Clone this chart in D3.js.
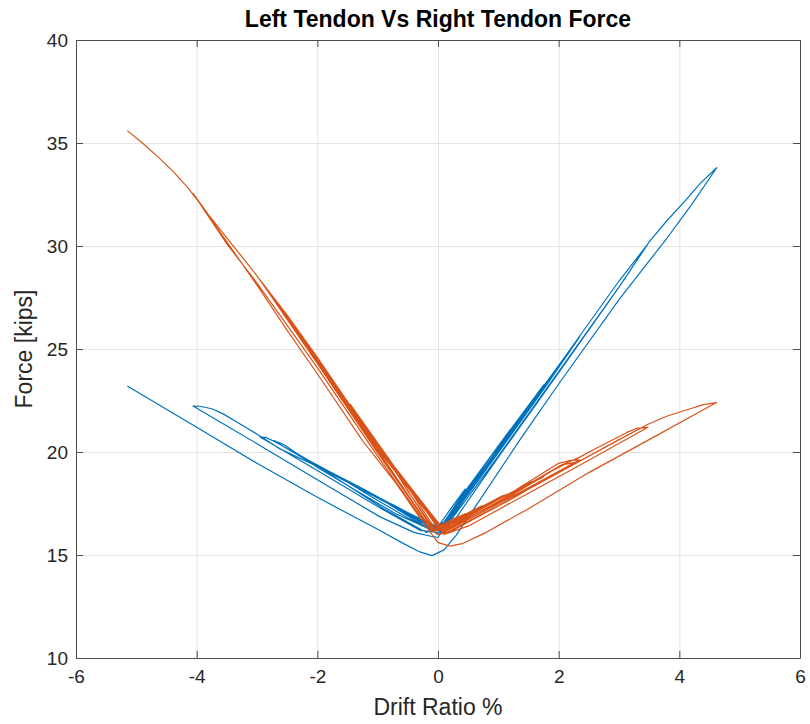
<!DOCTYPE html>
<html>
<head>
<meta charset="utf-8">
<script src="https://cdn.jsdelivr.net/npm/d3@7"></script>
<style>
  body { margin: 0; background: #fff; }
  svg { font-family: "Liberation Sans", Arial, sans-serif; }
  .grid line { stroke: #e3e3e3; stroke-width: 1; }
  .grid .domain { display: none; }
  .axis text { fill: #262626; font-size: 19px; }
  .axis line, .axis path { stroke: #4d4d4d; stroke-width: 1; }
</style>
</head>
<body>
<svg width="810" height="724"></svg>
<script>
/* ---- data ---- */
var title = "Left Tendon Vs Right Tendon Force"
var xLabel = "Drift Ratio %"
var yLabel = "Force [kips]"

var xTicks = [-6, -4, -2, 0, 2, 4, 6]
var yTicks = [10, 15, 20, 25, 30, 35, 40]

// left tendon (blue) : [drift %, force kips]
var leftTendon = [
  [0.0,16.35],[0.2,17.2],[0.45,18.2],[0.35,17.7],[0.1,16.6],[-0.05,16.3],[-0.3,16.7],[-0.5,17.0],[-0.3,16.6],[-0.05,16.25],
  [0.05,16.3],[0.4,17.9],[0.8,19.5],[0.6,18.6],[0.2,16.9],[0.0,16.3],[-0.4,16.9],[-0.75,17.45],[-0.95,17.7],[-0.5,16.95],[-0.1,16.3],
  [0.1,16.6],[0.6,18.7],[1.2,21.1],[0.9,19.75],[0.4,17.65],[0.05,16.3],[-0.5,17.05],[-1.0,17.8],[-1.3,18.3],[-1.45,18.45],[-1.0,17.65],[-0.5,16.8],[-0.1,16.25],
  [0.1,16.55],[0.9,19.9],[1.75,23.25],[1.3,21.35],[0.6,18.45],[0.05,16.25],[-0.6,17.2],[-1.3,18.3],[-1.8,19.05],[-2.05,19.35],[-1.4,18.2],[-0.7,17.0],[-0.1,16.2],
  [0.1,16.5],[1.2,21.0],[2.35,25.6],[1.8,23.25],[0.9,19.55],[0.05,16.2],[-0.8,17.5],[-1.8,19.05],[-2.4,20.0],[-2.7,20.5],[-2.85,20.7],[-2.95,20.73],[-2.0,19.1],[-1.0,17.35],[-0.3,16.2],[0.0,16.1],
  [0.15,16.5],[1.2,20.9],[2.25,25.2],[1.6,22.45],[0.8,19.15],[0.05,16.15],[-0.8,17.45],[-1.8,19.0],[-2.35,19.95],[-2.55,20.35],[-2.72,20.55],[-1.8,18.95],[-0.9,17.25],[-0.2,16.1],
  [0.1,16.4],[1.0,20.2],[2.0,24.2],[3.0,28.3],[3.48,30.1],[3.0,28.0],[2.0,23.85],[1.0,19.75],[0.3,16.8],[0.0,16.0],
  [-1.0,17.8],[-2.0,19.3],[-2.62,20.15],[-2.95,20.78],[-3.3,21.4],[-3.56,21.85],[-3.75,22.1],[-3.95,22.22],[-4.06,22.23],
  [-3.0,20.4],[-2.0,18.65],[-0.96,16.85],[-0.4,16.1],[-0.1,15.9],
  [0.0,15.85],[1.0,19.8],[2.0,23.9],[3.0,28.0],[3.5,30.2],[3.8,31.25],[4.1,32.2],[4.35,33.05],[4.62,33.8],
  [4.2,32.0],[3.8,30.4],[3.0,27.4],[2.0,23.3],[1.36,20.6],[0.7,17.7],[0.3,15.95],[0.1,15.25],[-0.1,14.97],[-0.3,15.15],
  [-0.6,15.6],[-1.0,16.25],[-2.0,17.8],[-3.0,19.45],[-4.0,21.2],[-5.15,23.2]
]

// right tendon (orange) : [drift %, force kips]
var rightTendon = [
  [0.0,16.4],[0.25,16.75],[0.45,17.0],[0.2,16.55],[0.0,16.3],[-0.25,17.35],[-0.5,18.3],[-0.3,17.4],[-0.05,16.3],
  [0.1,16.45],[0.5,17.05],[0.7,17.35],[0.8,17.45],[0.4,16.8],[0.05,16.25],[-0.5,18.3],[-0.95,20.2],[-0.5,18.1],[-0.05,16.2],
  [0.1,16.4],[0.7,17.3],[1.05,17.85],[1.2,18.0],[0.7,17.2],[0.1,16.2],[-0.7,19.2],[-1.45,22.3],[-0.8,19.5],[-0.1,16.3],
  [0.15,16.4],[1.0,17.7],[1.55,18.55],[1.75,18.8],[1.0,17.6],[0.1,16.15],[-1.0,20.3],[-2.05,24.8],[-1.0,20.1],[-0.1,16.2],
  [0.2,16.4],[1.2,18.0],[2.0,19.45],[2.2,19.6],[2.35,19.62],[1.3,17.95],[0.1,16.1],[-1.0,20.3],[-2.0,24.6],[-2.5,26.65],[-2.95,28.35],[-2.0,24.3],[-1.0,19.95],[-0.1,16.2],
  [0.2,16.35],[1.2,17.85],[1.9,19.1],[2.1,19.4],[2.25,19.48],[1.3,17.85],[0.15,16.05],[-1.0,20.2],[-2.0,24.5],[-2.65,27.2],[-1.8,23.5],[-0.9,19.6],[-0.1,16.15],
  [0.2,16.3],[1.0,17.6],[2.0,19.3],[2.35,19.75],[2.6,20.15],[3.13,20.95],[3.3,21.15],[3.48,21.2],[2.5,19.6],[1.5,18.0],[0.5,16.4],[0.1,16.0],
  [-1.0,20.15],[-2.0,24.45],[-3.0,28.55],[-3.5,30.4],[-3.8,31.5],[-4.06,32.55],[-3.5,30.1],[-3.0,28.2],[-2.0,24.1],[-1.0,19.8],[-0.3,16.9],[0.0,16.0],
  [0.15,16.1],[1.0,17.4],[2.0,19.0],[3.0,20.6],[3.48,21.35],[3.8,21.75],[4.13,22.05],[4.4,22.3],[4.62,22.4],
  [4.39,22.04],[3.5,20.6],[2.5,19.0],[1.5,17.25],[0.8,16.1],[0.4,15.55],[0.2,15.43],[0.0,15.6],[-0.3,16.8],[-0.7,18.5],
  [-1.24,20.5],[-2.0,23.8],[-2.5,25.9],[-3.0,28.1],[-3.5,30.2],[-3.94,32.05],[-4.15,32.85],[-4.4,33.65],[-4.65,34.35],[-4.9,35.0],[-5.15,35.6]
]

var seriesColor = ["#0072BD", "#D95319"]

/* ---- layout ---- */
var svg = d3.select("svg")
var plotLeft = 76, plotRight = 800, plotTop = 40, plotBottom = 658
var w = plotRight - plotLeft, h = plotBottom - plotTop

var x = d3.scaleLinear().domain([-6, 6]).range([plotLeft, plotRight])
var y = d3.scaleLinear().domain([10, 40]).range([plotBottom, plotTop])

/* grid */
svg.append("g").attr("class", "grid")
  .attr("transform", "translate(0," + plotBottom + ")")
  .call(d3.axisBottom(x).tickValues(xTicks).tickSize(-h).tickFormat(""))
svg.append("g").attr("class", "grid")
  .attr("transform", "translate(" + plotLeft + ",0)")
  .call(d3.axisLeft(y).tickValues(yTicks).tickSize(-w).tickFormat(""))

/* lines */
var line = d3.line().x(function(d){ return x(d[0]) }).y(function(d){ return y(d[1]) })

svg.append("path").datum(leftTendon)
  .attr("fill", "none").attr("stroke", seriesColor[0]).attr("stroke-width", 1.2)
  .attr("stroke-linejoin", "round").attr("d", line)
svg.append("path").datum(rightTendon)
  .attr("fill", "none").attr("stroke", seriesColor[1]).attr("stroke-width", 1.2)
  .attr("stroke-linejoin", "round").attr("d", line)

/* axes, ticks pointing inward on all four sides */
var fmt = function(d){ return d < 0 ? "-" + Math.abs(d) : d }
svg.append("g").attr("class", "axis")
  .attr("transform", "translate(0," + plotBottom + ")")
  .call(d3.axisBottom(x).tickValues(xTicks).tickSize(-7).tickSizeOuter(0).tickPadding(12).tickFormat(fmt))
svg.append("g").attr("class", "axis")
  .attr("transform", "translate(0," + plotTop + ")")
  .call(d3.axisTop(x).tickValues(xTicks).tickSize(-7).tickSizeOuter(0).tickFormat(""))
svg.append("g").attr("class", "axis")
  .attr("transform", "translate(" + plotLeft + ",0)")
  .call(d3.axisLeft(y).tickValues(yTicks).tickSize(-7).tickSizeOuter(0).tickPadding(8))
svg.append("g").attr("class", "axis")
  .attr("transform", "translate(" + plotRight + ",0)")
  .call(d3.axisRight(y).tickValues(yTicks).tickSize(-7).tickSizeOuter(0).tickFormat(""))

/* texts */
svg.append("text")
  .attr("x", (plotLeft + plotRight) / 2).attr("y", 27)
  .attr("text-anchor", "middle")
  .style("font-size", "23px").style("font-weight", "bold").style("fill", "#000")
  .text(title)

svg.append("text")
  .attr("x", (plotLeft + plotRight) / 2).attr("y", 715)
  .attr("text-anchor", "middle")
  .style("font-size", "23px").style("fill", "#262626")
  .text(xLabel)

svg.append("text")
  .attr("transform", "translate(32," + (plotTop + plotBottom) / 2 + ") rotate(-90)")
  .attr("text-anchor", "middle")
  .style("font-size", "23px").style("fill", "#262626")
  .text(yLabel)
</script>
</body>
</html>
